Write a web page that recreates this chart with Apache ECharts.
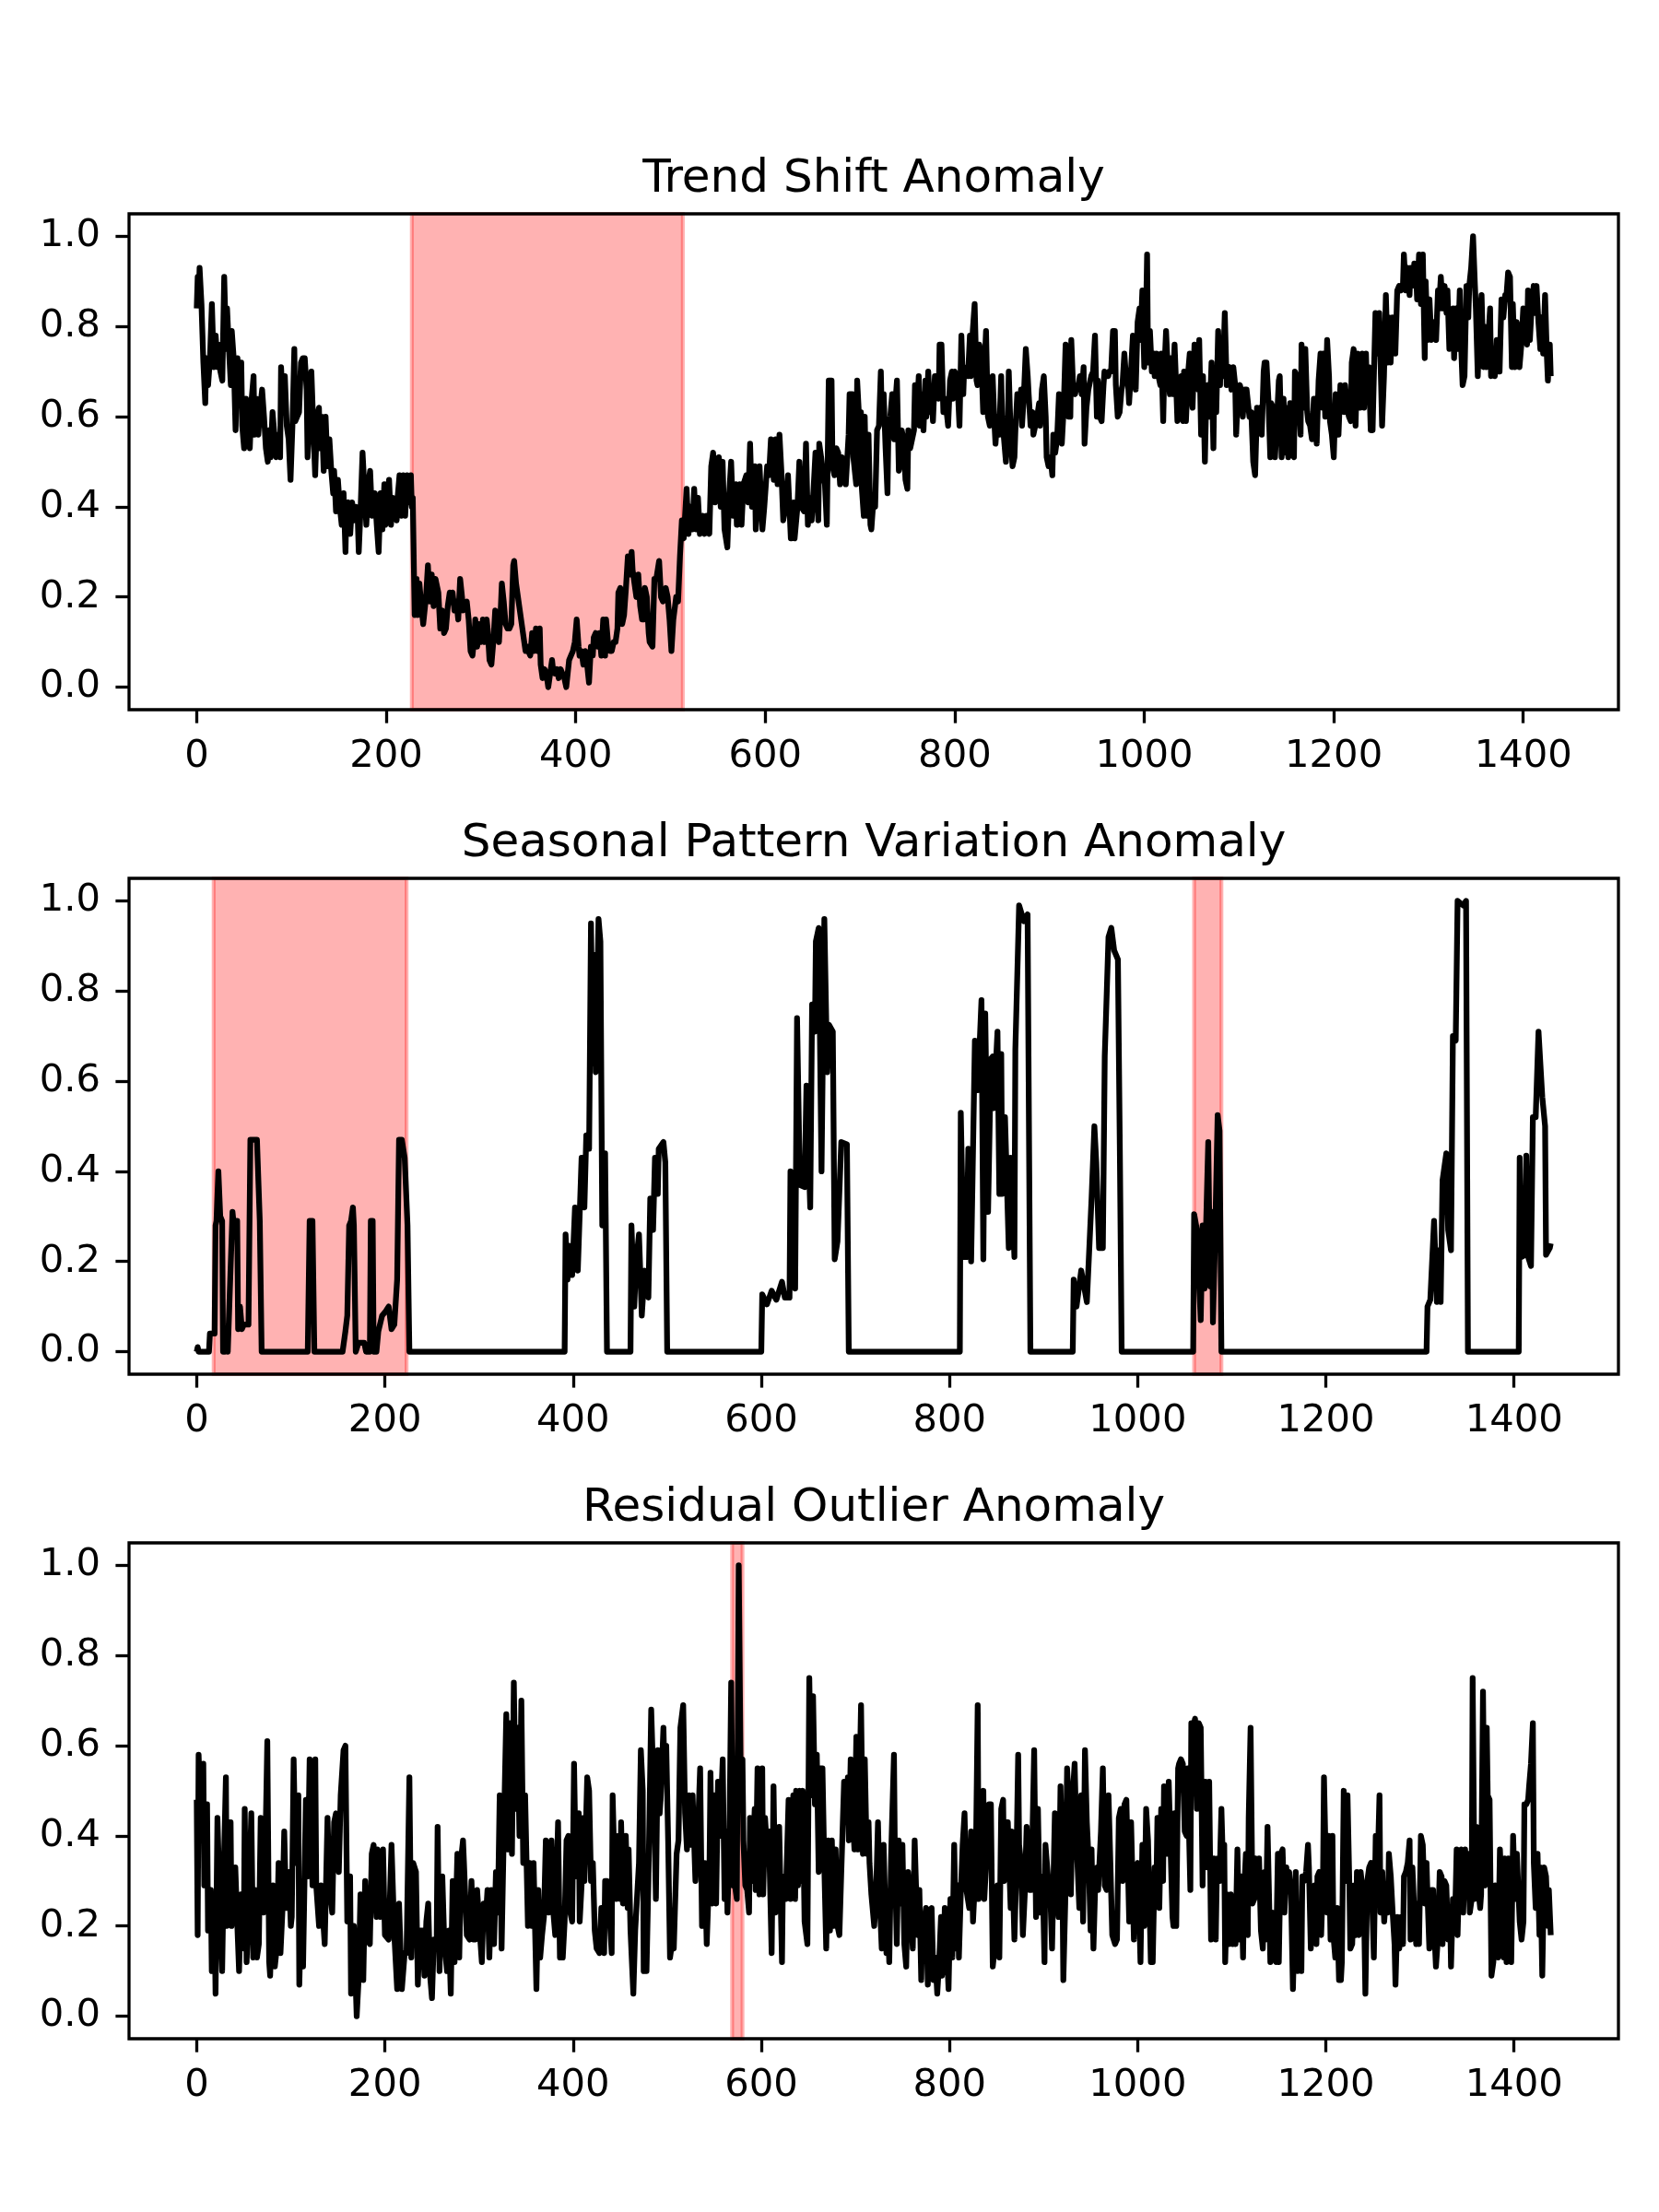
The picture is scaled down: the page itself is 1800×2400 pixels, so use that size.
<!doctype html>
<html lang="en">
<head>
<meta charset="UTF-8">
<title>Anomaly types</title>
<script src="https://cdn.jsdelivr.net/npm/echarts@6/dist/echarts.min.js"></script>
<style>
  html, body { margin: 0; padding: 0; background: #fff; }
  #main { width: 1800px; height: 2400px; }
</style>
</head>
<body>
<div id="main"></div>
<script>
// values, [index, normalised value]
var trendPoints = [[0,0.84],[1,0.91],[2,0.85],[3,0.93],[5,0.85],[7,0.72],[9,0.63],[10,0.73],[12,0.67],[14,0.73],[16,0.85],[18,0.71],[20,0.78],[22,0.71],[23,0.76],[25,0.70],[27,0.68],[29,0.91],[31,0.75],[32,0.84],[34,0.75],[36,0.67],[37,0.79],[39,0.73],[41,0.57],[43,0.73],[45,0.63],[47,0.72],[48,0.58],[50,0.53],[52,0.64],[54,0.55],[56,0.53],[58,0.64],[60,0.69],[61,0.56],[63,0.64],[65,0.56],[67,0.62],[69,0.66],[71,0.60],[73,0.53],[75,0.50],[76,0.57],[78,0.51],[80,0.61],[82,0.56],[84,0.51],[86,0.56],[88,0.51],[89,0.71],[91,0.62],[93,0.69],[95,0.58],[97,0.55],[99,0.46],[101,0.58],[103,0.75],[104,0.59],[106,0.60],[108,0.61],[110,0.72],[112,0.73],[114,0.73],[116,0.66],[117,0.51],[119,0.60],[121,0.70],[123,0.58],[125,0.47],[127,0.60],[129,0.62],[130,0.53],[132,0.60],[134,0.48],[136,0.60],[138,0.49],[140,0.55],[142,0.48],[144,0.43],[145,0.48],[147,0.39],[149,0.46],[151,0.40],[153,0.36],[155,0.43],[157,0.30],[158,0.40],[160,0.41],[162,0.34],[164,0.41],[166,0.37],[168,0.40],[170,0.37],[171,0.30],[173,0.40],[175,0.52],[177,0.44],[179,0.36],[181,0.45],[183,0.48],[185,0.38],[186,0.42],[188,0.43],[190,0.36],[192,0.30],[194,0.43],[196,0.35],[198,0.45],[199,0.36],[201,0.41],[203,0.46],[205,0.36],[207,0.42],[209,0.39],[211,0.37],[212,0.42],[214,0.47],[216,0.38],[218,0.47],[220,0.38],[222,0.47],[224,0.41],[226,0.47],[227,0.40],[228,0.42],[230,0.16],[232,0.24],[233,0.16],[235,0.23],[237,0.18],[239,0.14],[241,0.18],[242,0.20],[244,0.27],[246,0.19],[248,0.25],[250,0.18],[252,0.24],[253,0.23],[255,0.21],[257,0.13],[259,0.17],[261,0.12],[263,0.13],[265,0.18],[267,0.21],[268,0.19],[270,0.21],[272,0.17],[274,0.19],[276,0.15],[278,0.24],[280,0.20],[281,0.17],[283,0.18],[285,0.19],[287,0.15],[289,0.08],[291,0.07],[293,0.11],[294,0.15],[296,0.09],[298,0.14],[300,0.10],[302,0.15],[304,0.10],[306,0.15],[307,0.13],[309,0.06],[311,0.05],[313,0.10],[315,0.17],[317,0.14],[319,0.10],[321,0.18],[322,0.23],[324,0.19],[326,0.14],[328,0.13],[330,0.13],[332,0.14],[334,0.27],[335,0.28],[337,0.23],[339,0.20],[341,0.17],[343,0.14],[345,0.11],[347,0.08],[349,0.09],[350,0.08],[352,0.07],[354,0.12],[356,0.08],[358,0.13],[360,0.08],[362,0.13],[363,0.05],[365,0.02],[367,0.04],[369,0.03],[371,0.0],[373,0.03],[375,0.06],[376,0.04],[378,0.03],[380,0.04],[382,0.02],[384,0.04],[386,0.03],[388,0.02],[390,0.0],[391,0.02],[393,0.06],[395,0.07],[397,0.08],[399,0.10],[401,0.15],[403,0.09],[404,0.07],[406,0.08],[408,0.05],[410,0.08],[412,0.05],[414,0.01],[416,0.09],[418,0.07],[419,0.11],[421,0.12],[423,0.09],[425,0.12],[427,0.07],[429,0.15],[431,0.07],[432,0.15],[434,0.10],[436,0.08],[438,0.08],[440,0.10],[442,0.10],[444,0.13],[445,0.21],[447,0.22],[449,0.14],[451,0.16],[453,0.22],[455,0.29],[457,0.25],[459,0.30],[460,0.26],[462,0.23],[464,0.20],[466,0.25],[468,0.18],[470,0.15],[472,0.15],[473,0.22],[475,0.20],[477,0.12],[478,0.10],[481,0.09],[483,0.24],[485,0.24],[488,0.28],[490,0.20],[492,0.19],[495,0.22],[497,0.20],[499,0.15],[501,0.08],[503,0.15],[506,0.20],[508,0.19],[510,0.29],[512,0.37],[514,0.33],[517,0.44],[519,0.34],[521,0.40],[523,0.35],[525,0.44],[527,0.35],[529,0.42],[531,0.34],[534,0.38],[536,0.34],[538,0.38],[541,0.34],[543,0.49],[545,0.52],[547,0.41],[549,0.47],[551,0.51],[553,0.40],[555,0.50],[557,0.35],[560,0.31],[562,0.43],[564,0.50],[566,0.38],[569,0.45],[570,0.36],[573,0.45],[575,0.36],[577,0.45],[580,0.47],[582,0.41],[584,0.54],[586,0.40],[589,0.49],[590,0.35],[592,0.43],[594,0.49],[597,0.35],[599,0.40],[602,0.49],[604,0.47],[606,0.55],[609,0.46],[611,0.55],[613,0.45],[615,0.56],[617,0.48],[619,0.37],[622,0.41],[624,0.47],[627,0.33],[630,0.41],[631,0.33],[634,0.40],[636,0.50],[638,0.40],[641,0.39],[643,0.54],[645,0.36],[647,0.42],[649,0.37],[651,0.44],[653,0.52],[656,0.37],[657,0.54],[659,0.51],[661,0.47],[663,0.45],[665,0.36],[667,0.68],[670,0.68],[671,0.49],[673,0.47],[675,0.53],[677,0.52],[679,0.45],[681,0.51],[683,0.50],[685,0.45],[688,0.56],[689,0.65],[692,0.65],[693,0.51],[696,0.45],[697,0.68],[699,0.60],[701,0.61],[702,0.44],[704,0.38],[705,0.60],[707,0.38],[709,0.56],[711,0.36],[712,0.35],[714,0.41],[716,0.40],[718,0.57],[720,0.58],[722,0.70],[723,0.60],[725,0.65],[727,0.53],[729,0.43],[730,0.57],[732,0.60],[734,0.65],[736,0.55],[737,0.62],[739,0.68],[741,0.48],[743,0.50],[744,0.57],[746,0.55],[748,0.46],[750,0.44],[751,0.57],[753,0.53],[755,0.55],[757,0.57],[758,0.67],[760,0.60],[762,0.69],[763,0.58],[765,0.65],[767,0.57],[769,0.68],[770,0.60],[772,0.70],[774,0.61],[776,0.64],[777,0.59],[779,0.69],[781,0.69],[783,0.64],[784,0.76],[786,0.76],[788,0.61],[790,0.64],[791,0.62],[793,0.58],[795,0.68],[797,0.70],[798,0.64],[800,0.70],[802,0.69],[803,0.67],[805,0.58],[807,0.78],[809,0.65],[810,0.71],[812,0.70],[814,0.69],[816,0.78],[817,0.69],[819,0.79],[821,0.85],[823,0.68],[824,0.67],[826,0.76],[828,0.73],[830,0.61],[831,0.69],[833,0.79],[835,0.60],[837,0.58],[838,0.61],[840,0.69],[842,0.58],[843,0.54],[845,0.60],[847,0.56],[849,0.69],[850,0.60],[852,0.55],[854,0.50],[856,0.58],[857,0.70],[859,0.56],[861,0.49],[863,0.51],[864,0.57],[866,0.65],[868,0.61],[870,0.66],[871,0.58],[873,0.65],[875,0.75],[877,0.69],[878,0.65],[880,0.58],[882,0.61],[883,0.56],[885,0.58],[887,0.60],[889,0.63],[890,0.58],[892,0.66],[894,0.69],[896,0.60],[897,0.51],[899,0.49],[901,0.51],[903,0.47],[904,0.56],[906,0.52],[908,0.55],[910,0.65],[911,0.57],[913,0.54],[915,0.62],[917,0.76],[918,0.66],[920,0.60],[922,0.60],[923,0.77],[925,0.66],[927,0.65],[929,0.67],[930,0.66],[932,0.69],[934,0.65],[936,0.71],[937,0.54],[939,0.62],[941,0.66],[943,0.68],[944,0.69],[946,0.70],[948,0.78],[950,0.60],[951,0.68],[953,0.60],[955,0.59],[957,0.67],[958,0.70],[960,0.69],[962,0.69],[963,0.70],[965,0.70],[967,0.79],[969,0.79],[970,0.67],[972,0.60],[974,0.61],[976,0.66],[977,0.67],[979,0.74],[981,0.68],[983,0.67],[984,0.63],[986,0.70],[988,0.78],[989,0.76],[991,0.66],[993,0.81],[995,0.84],[996,0.77],[998,0.88],[1000,0.71],[1002,0.84],[1003,0.96],[1004,0.72],[1006,0.79],[1008,0.70],[1010,0.74],[1011,0.69],[1013,0.74],[1015,0.69],[1017,0.67],[1018,0.74],[1020,0.59],[1021,0.69],[1023,0.79],[1025,0.70],[1027,0.65],[1028,0.73],[1030,0.65],[1032,0.76],[1034,0.65],[1035,0.59],[1037,0.61],[1039,0.69],[1041,0.59],[1042,0.70],[1044,0.59],[1046,0.69],[1048,0.74],[1050,0.64],[1051,0.62],[1053,0.76],[1055,0.67],[1057,0.66],[1058,0.77],[1060,0.56],[1062,0.69],[1064,0.50],[1065,0.60],[1067,0.67],[1069,0.60],[1071,0.72],[1073,0.53],[1074,0.69],[1076,0.61],[1078,0.79],[1080,0.67],[1081,0.77],[1083,0.69],[1085,0.83],[1087,0.67],[1088,0.69],[1090,0.71],[1092,0.66],[1094,0.71],[1096,0.67],[1097,0.56],[1099,0.66],[1101,0.67],[1103,0.65],[1104,0.60],[1106,0.66],[1108,0.66],[1110,0.62],[1111,0.60],[1113,0.61],[1115,0.50],[1117,0.47],[1119,0.62],[1120,0.60],[1122,0.62],[1124,0.56],[1126,0.70],[1127,0.72],[1129,0.72],[1131,0.64],[1133,0.51],[1134,0.63],[1136,0.62],[1138,0.51],[1140,0.59],[1142,0.68],[1143,0.69],[1145,0.51],[1147,0.64],[1149,0.52],[1150,0.62],[1152,0.51],[1154,0.63],[1156,0.52],[1158,0.51],[1159,0.70],[1161,0.69],[1163,0.64],[1165,0.56],[1166,0.76],[1168,0.62],[1170,0.75],[1172,0.61],[1173,0.59],[1175,0.58],[1177,0.55],[1179,0.64],[1181,0.64],[1182,0.54],[1184,0.68],[1186,0.74],[1188,0.62],[1189,0.74],[1191,0.60],[1193,0.77],[1195,0.69],[1196,0.59],[1198,0.56],[1200,0.51],[1202,0.65],[1204,0.62],[1205,0.56],[1207,0.67],[1209,0.63],[1211,0.61],[1212,0.67],[1214,0.62],[1216,0.60],[1218,0.59],[1219,0.72],[1221,0.75],[1223,0.58],[1225,0.74],[1226,0.62],[1228,0.62],[1230,0.74],[1232,0.62],[1234,0.74],[1235,0.66],[1237,0.71],[1239,0.57],[1241,0.57],[1242,0.66],[1244,0.83],[1246,0.74],[1248,0.83],[1250,0.67],[1251,0.58],[1253,0.69],[1255,0.87],[1257,0.72],[1258,0.82],[1260,0.72],[1262,0.82],[1264,0.77],[1265,0.74],[1267,0.88],[1269,0.89],[1271,0.88],[1273,0.89],[1274,0.96],[1276,0.88],[1278,0.93],[1280,0.87],[1281,0.93],[1283,0.89],[1285,0.94],[1287,0.91],[1288,0.86],[1290,0.96],[1292,0.85],[1294,0.96],[1296,0.73],[1297,0.90],[1299,0.77],[1301,0.86],[1303,0.77],[1304,0.78],[1306,0.81],[1308,0.77],[1310,0.88],[1311,0.84],[1313,0.91],[1315,0.84],[1317,0.89],[1319,0.83],[1320,0.88],[1322,0.75],[1324,0.79],[1326,0.84],[1327,0.73],[1329,0.84],[1331,0.75],[1333,0.88],[1334,0.78],[1336,0.67],[1338,0.69],[1340,0.89],[1342,0.82],[1343,0.89],[1345,0.93],[1347,1.0],[1349,0.89],[1350,0.84],[1352,0.69],[1354,0.82],[1356,0.87],[1358,0.71],[1359,0.80],[1361,0.71],[1363,0.77],[1365,0.84],[1366,0.69],[1368,0.71],[1370,0.69],[1372,0.77],[1373,0.77],[1375,0.70],[1377,0.86],[1379,0.82],[1381,0.87],[1382,0.86],[1384,0.92],[1386,0.91],[1388,0.71],[1389,0.85],[1391,0.71],[1393,0.81],[1395,0.78],[1396,0.71],[1398,0.76],[1400,0.84],[1402,0.78],[1404,0.76],[1405,0.88],[1407,0.77],[1409,0.85],[1411,0.89],[1412,0.83],[1414,0.89],[1416,0.81],[1418,0.75],[1419,0.82],[1421,0.74],[1423,0.87],[1425,0.73],[1426,0.68],[1428,0.76],[1429,0.69]];

var seasonalPoints = [[0,0],[1,0.01],[2,0],[13,0],[14,0.04],[19,0.04],[20,0.28],[21,0.29],[23,0.40],[25,0.30],[27,0.29],[28,0],[30,0],[31,0.03],[33,0],[34,0],[38,0.31],[39,0.29],[43,0.29],[44,0.05],[46,0.10],[48,0.05],[50,0.06],[55,0.06],[57,0.47],[64,0.47],[67,0.29],[69,0],[118,0],[120,0.29],[123,0.29],[125,0],[155,0],[158,0.045],[160,0.08],[162,0.28],[164,0.29],[166,0.32],[167,0.28],[169,0],[172,0.02],[178,0.02],[180,0],[184,0],[185,0.29],[187,0.29],[188,0],[191,0],[193,0.045],[197,0.08],[201,0.09],[204,0.10],[207,0.05],[210,0.06],[213,0.16],[215,0.47],[218,0.47],[221,0.43],[224,0.28],[226,0],[391,0],[392,0.26],[394,0.16],[396,0.235],[399,0.17],[402,0.32],[405,0.18],[409,0.43],[412,0.32],[414,0.48],[417,0.45],[419,0.95],[421,0.64],[423,0.88],[424,0.62],[427,0.96],[429,0.91],[431,0.28],[434,0.44],[436,0],[461,0],[462,0.28],[465,0.10],[467,0.20],[470,0.26],[473,0.08],[476,0.18],[480,0.12],[482,0.34],[485,0.27],[487,0.43],[490,0.35],[491,0.45],[496,0.465],[498,0.42],[500,0],[600,0],[601,0.127],[606,0.105],[611,0.135],[616,0.115],[622,0.155],[625,0.12],[630,0.12],[631,0.40],[636,0.14],[638,0.74],[641,0.37],[646,0.365],[648,0.59],[652,0.32],[654,0.77],[657,0.71],[658,0.91],[661,0.94],[664,0.40],[667,0.96],[670,0.62],[672,0.725],[676,0.71],[678,0.205],[681,0.245],[685,0.465],[691,0.46],[693,0],[811,0],[812,0.53],[815,0.21],[818,0.21],[820,0.45],[823,0.20],[827,0.69],[828,0.69],[830,0.58],[834,0.78],[836,0.205],[838,0.75],[841,0.31],[844,0.65],[846,0.655],[847,0.54],[851,0.71],[853,0.35],[855,0.66],[856,0.35],[859,0.52],[863,0.23],[865,0.43],[869,0.21],[870,0.67],[874,0.99],[879,0.955],[883,0.97],[886,0],[931,0],[932,0.16],[935,0.10],[940,0.18],[946,0.11],[951,0.34],[954,0.50],[956,0.42],[959,0.23],[963,0.23],[965,0.655],[969,0.92],[972,0.94],[975,0.89],[979,0.87],[981,0.46],[983,0],[1059,0],[1060,0.305],[1063,0.27],[1067,0.07],[1069,0.28],[1071,0.14],[1075,0.465],[1077,0.145],[1079,0.31],[1080,0.065],[1082,0.225],[1085,0.525],[1087,0.49],[1089,0],[1307,0],[1308,0.10],[1311,0.115],[1315,0.29],[1318,0.11],[1320,0.225],[1322,0.11],[1324,0.38],[1328,0.44],[1330,0.27],[1333,0.225],[1335,0.70],[1338,0.69],[1340,1.0],[1346,0.99],[1349,1.0],[1351,0],[1405,0],[1406,0.43],[1408,0.21],[1412,0.215],[1413,0.435],[1415,0.21],[1418,0.19],[1420,0.52],[1423,0.52],[1426,0.71],[1430,0.565],[1433,0.50],[1434,0.215],[1438,0.23],[1439,0.24]];

var residualPoints = [[0,0.48],[1,0.18],[2,0.58],[4,0.45],[7,0.56],[8,0.29],[11,0.47],[12,0.19],[15,0.28],[16,0.10],[19,0.22],[20,0.05],[22,0.44],[25,0.22],[27,0.10],[29,0.35],[31,0.53],[32,0.20],[36,0.43],[37,0.20],[41,0.33],[43,0.21],[45,0.10],[47,0.27],[50,0.15],[51,0.46],[53,0.12],[56,0.30],[58,0.45],[60,0.13],[62,0.28],[64,0.13],[66,0.16],[68,0.44],[71,0.23],[72,0.26],[75,0.61],[77,0.12],[78,0.09],[81,0.29],[83,0.11],[85,0.15],[87,0.34],[89,0.14],[91,0.23],[93,0.41],[95,0.24],[98,0.32],[100,0.20],[101,0.22],[103,0.57],[105,0.34],[108,0.49],[109,0.07],[111,0.24],[113,0.11],[116,0.48],[118,0.31],[120,0.57],[123,0.29],[126,0.57],[127,0.29],[130,0.20],[132,0.29],[136,0.16],[139,0.44],[141,0.29],[144,0.23],[146,0.43],[148,0.45],[151,0.32],[153,0.49],[156,0.59],[158,0.60],[160,0.21],[163,0.31],[164,0.05],[167,0.20],[170,0.0],[172,0.08],[174,0.27],[177,0.08],[179,0.30],[181,0.17],[184,0.16],[186,0.36],[188,0.38],[191,0.22],[192,0.37],[195,0.22],[198,0.37],[200,0.18],[204,0.17],[207,0.38],[210,0.18],[213,0.06],[215,0.25],[218,0.06],[221,0.14],[223,0.14],[226,0.53],[228,0.13],[230,0.34],[233,0.32],[235,0.07],[237,0.19],[240,0.19],[242,0.09],[244,0.21],[246,0.25],[248,0.09],[250,0.04],[252,0.17],[255,0.16],[256,0.42],[258,0.10],[261,0.31],[263,0.17],[266,0.10],[268,0.19],[270,0.05],[272,0.30],[274,0.12],[277,0.36],[279,0.13],[281,0.35],[283,0.39],[284,0.34],[287,0.18],[290,0.17],[292,0.30],[294,0.17],[296,0.17],[298,0.28],[301,0.18],[303,0.12],[305,0.25],[307,0.21],[309,0.28],[311,0.13],[313,0.28],[316,0.16],[318,0.32],[320,0.23],[322,0.49],[324,0.15],[326,0.37],[329,0.67],[331,0.37],[333,0.65],[335,0.36],[337,0.74],[339,0.46],[341,0.64],[343,0.40],[345,0.70],[347,0.34],[349,0.49],[352,0.20],[354,0.34],[356,0.20],[358,0.34],[361,0.06],[363,0.28],[365,0.13],[367,0.18],[369,0.22],[371,0.39],[374,0.23],[377,0.39],[379,0.23],[381,0.18],[384,0.43],[386,0.13],[389,0.13],[391,0.21],[393,0.39],[395,0.40],[397,0.23],[399,0.21],[401,0.56],[403,0.31],[406,0.45],[407,0.21],[409,0.29],[411,0.44],[412,0.30],[415,0.53],[417,0.50],[419,0.30],[421,0.34],[423,0.19],[425,0.15],[428,0.14],[430,0.24],[433,0.14],[434,0.30],[436,0.30],[438,0.25],[441,0.14],[442,0.49],[444,0.33],[446,0.26],[448,0.40],[450,0.26],[451,0.43],[453,0.25],[456,0.40],[458,0.24],[459,0.37],[461,0.19],[464,0.05],[466,0.19],[470,0.34],[472,0.59],[474,0.50],[475,0.10],[478,0.10],[480,0.30],[483,0.68],[486,0.47],[488,0.26],[490,0.59],[492,0.45],[493,0.48],[496,0.64],[497,0.55],[499,0.60],[501,0.39],[503,0.13],[505,0.16],[507,0.15],[510,0.36],[512,0.39],[514,0.64],[517,0.69],[519,0.45],[521,0.37],[523,0.49],[525,0.38],[527,0.49],[530,0.30],[531,0.30],[533,0.43],[535,0.55],[537,0.20],[539,0.25],[540,0.34],[542,0.16],[545,0.34],[546,0.54],[548,0.25],[550,0.49],[552,0.25],[554,0.52],[556,0.40],[559,0.57],[561,0.26],[563,0.41],[564,0.23],[566,0.37],[568,0.74],[570,0.29],[572,0.29],[574,0.26],[576,1.0],[578,0.56],[580,0.57],[581,0.39],[583,0.29],[585,0.28],[587,0.23],[588,0.44],[590,0.30],[593,0.46],[594,0.28],[596,0.55],[598,0.27],[601,0.55],[602,0.27],[604,0.44],[607,0.34],[608,0.41],[611,0.14],[613,0.51],[615,0.23],[617,0.31],[619,0.42],[622,0.12],[623,0.31],[626,0.26],[629,0.48],[631,0.26],[634,0.49],[636,0.26],[637,0.50],[639,0.29],[641,0.50],[643,0.30],[644,0.50],[646,0.21],[649,0.16],[651,0.75],[653,0.49],[655,0.71],[657,0.47],[659,0.58],[661,0.32],[663,0.55],[665,0.55],[667,0.33],[669,0.15],[671,0.39],[673,0.19],[675,0.39],[677,0.20],[679,0.37],[681,0.20],[683,0.18],[685,0.32],[688,0.52],[690,0.43],[692,0.53],[693,0.39],[695,0.57],[697,0.45],[699,0.37],[701,0.62],[703,0.37],[706,0.69],[708,0.36],[710,0.57],[712,0.36],[714,0.43],[715,0.34],[717,0.27],[720,0.20],[722,0.27],[724,0.43],[726,0.25],[728,0.15],[730,0.38],[733,0.14],[734,0.25],[736,0.12],[738,0.36],[741,0.58],[742,0.35],[744,0.16],[746,0.39],[748,0.25],[750,0.38],[752,0.16],[754,0.11],[756,0.32],[759,0.23],[761,0.15],[763,0.39],[766,0.18],[768,0.28],[770,0.08],[771,0.20],[773,0.20],[775,0.24],[777,0.07],[778,0.23],[781,0.24],[783,0.08],[785,0.13],[787,0.05],[789,0.12],[791,0.22],[792,0.09],[794,0.12],[795,0.24],[797,0.16],[799,0.06],[801,0.26],[803,0.13],[805,0.38],[807,0.15],[809,0.29],[810,0.13],[812,0.27],[814,0.38],[816,0.45],[818,0.28],[821,0.24],[823,0.41],[825,0.21],[828,0.34],[830,0.69],[831,0.26],[834,0.41],[836,0.50],[837,0.26],[839,0.34],[842,0.47],[844,0.47],[846,0.11],[849,0.17],[851,0.29],[853,0.13],[855,0.46],[857,0.48],[858,0.30],[860,0.43],[862,0.43],[865,0.24],[866,0.41],[869,0.17],[871,0.32],[873,0.58],[874,0.38],[876,0.34],[878,0.18],[880,0.27],[882,0.42],[885,0.28],[887,0.28],[890,0.59],[892,0.22],[894,0.46],[896,0.23],[899,0.31],[901,0.12],[902,0.38],[905,0.30],[907,0.28],[909,0.15],[912,0.45],[914,0.28],[916,0.22],[918,0.51],[920,0.31],[921,0.08],[923,0.25],[925,0.55],[927,0.47],[929,0.27],[931,0.49],[933,0.56],[935,0.39],[936,0.34],[938,0.24],[940,0.49],[942,0.21],[944,0.59],[946,0.43],[948,0.34],[950,0.19],[951,0.37],[953,0.15],[955,0.30],[957,0.33],[958,0.28],[961,0.41],[963,0.55],[965,0.29],[967,0.28],[969,0.49],[971,0.34],[973,0.18],[976,0.16],[978,0.17],[980,0.44],[982,0.46],[984,0.30],[986,0.47],[988,0.48],[990,0.30],[991,0.21],[993,0.43],[996,0.17],[997,0.31],[1000,0.34],[1002,0.20],[1003,0.12],[1005,0.38],[1007,0.20],[1009,0.46],[1011,0.39],[1012,0.30],[1014,0.12],[1016,0.12],[1018,0.33],[1020,0.30],[1021,0.44],[1023,0.24],[1025,0.46],[1027,0.30],[1028,0.51],[1029,0.36],[1031,0.36],[1033,0.52],[1035,0.37],[1037,0.22],[1038,0.20],[1039,0.45],[1041,0.20],[1043,0.55],[1044,0.56],[1046,0.57],[1048,0.56],[1050,0.41],[1052,0.40],[1053,0.55],[1056,0.28],[1057,0.65],[1059,0.64],[1061,0.66],[1063,0.46],[1065,0.65],[1067,0.64],[1069,0.29],[1070,0.52],[1072,0.52],[1074,0.33],[1076,0.52],[1078,0.17],[1079,0.17],[1081,0.35],[1083,0.17],[1084,0.30],[1085,0.35],[1087,0.30],[1089,0.46],[1091,0.31],[1092,0.38],[1093,0.12],[1095,0.27],[1097,0.16],[1099,0.27],[1101,0.16],[1103,0.21],[1104,0.16],[1106,0.37],[1108,0.17],[1110,0.31],[1112,0.13],[1113,0.27],[1115,0.36],[1117,0.18],[1118,0.44],[1120,0.64],[1122,0.25],[1124,0.26],[1125,0.35],[1127,0.27],[1129,0.35],[1131,0.19],[1133,0.15],[1135,0.32],[1136,0.17],[1138,0.42],[1140,0.23],[1141,0.12],[1143,0.23],[1145,0.15],[1147,0.12],[1149,0.36],[1150,0.12],[1152,0.36],[1154,0.37],[1156,0.23],[1158,0.33],[1159,0.29],[1161,0.32],[1163,0.27],[1165,0.06],[1167,0.23],[1168,0.32],[1170,0.10],[1172,0.19],[1174,0.10],[1175,0.31],[1177,0.30],[1179,0.32],[1181,0.38],[1182,0.33],[1184,0.15],[1186,0.24],[1188,0.29],[1190,0.16],[1191,0.31],[1193,0.32],[1195,0.18],[1197,0.31],[1198,0.53],[1200,0.33],[1201,0.23],[1203,0.40],[1205,0.17],[1207,0.40],[1208,0.18],[1210,0.13],[1212,0.24],[1214,0.08],[1216,0.08],[1217,0.12],[1219,0.50],[1221,0.30],[1223,0.49],[1225,0.29],[1226,0.15],[1228,0.16],[1230,0.29],[1232,0.18],[1233,0.32],[1235,0.18],[1237,0.32],[1239,0.28],[1241,0.18],[1242,0.05],[1244,0.30],[1246,0.33],[1248,0.34],[1249,0.34],[1251,0.13],[1253,0.40],[1255,0.33],[1257,0.49],[1258,0.23],[1260,0.32],[1262,0.21],[1264,0.27],[1266,0.23],[1267,0.36],[1269,0.31],[1271,0.23],[1273,0.16],[1274,0.07],[1276,0.22],[1278,0.15],[1280,0.22],[1282,0.16],[1283,0.31],[1285,0.32],[1287,0.34],[1289,0.39],[1290,0.17],[1292,0.33],[1294,0.23],[1296,0.16],[1298,0.25],[1299,0.16],[1301,0.40],[1303,0.38],[1305,0.25],[1307,0.34],[1308,0.27],[1310,0.15],[1312,0.28],[1314,0.28],[1315,0.20],[1317,0.11],[1319,0.17],[1321,0.32],[1323,0.31],[1324,0.16],[1326,0.30],[1328,0.29],[1330,0.17],[1332,0.23],[1333,0.11],[1335,0.26],[1337,0.19],[1339,0.37],[1340,0.18],[1342,0.34],[1344,0.37],[1346,0.23],[1348,0.37],[1349,0.31],[1351,0.36],[1353,0.23],[1355,0.26],[1356,0.75],[1358,0.26],[1360,0.42],[1362,0.28],[1364,0.24],[1365,0.27],[1367,0.72],[1369,0.29],[1371,0.64],[1372,0.49],[1374,0.48],[1376,0.09],[1378,0.12],[1380,0.29],[1381,0.23],[1383,0.13],[1385,0.37],[1387,0.26],[1389,0.13],[1390,0.35],[1392,0.12],[1394,0.35],[1396,0.16],[1397,0.12],[1399,0.40],[1401,0.26],[1403,0.36],[1405,0.26],[1406,0.21],[1408,0.17],[1410,0.21],[1411,0.47],[1413,0.47],[1415,0.48],[1416,0.51],[1418,0.56],[1420,0.65],[1421,0.34],[1423,0.24],[1425,0.36],[1427,0.18],[1428,0.33],[1430,0.09],[1432,0.33],[1434,0.31],[1436,0.20],[1437,0.28],[1439,0.18]];

// shaded anomaly windows [start, end]
var trendSpans = [[227, 513]];
var seasonalSpans = [[18, 223], [1060, 1089]];
var residualSpans = [[569, 580]];

var titles = ['Trend Shift Anomaly', 'Seasonal Pattern Variation Anomaly', 'Residual Outlier Anomaly'];
var xTicks = [0, 200, 400, 600, 800, 1000, 1200, 1400];
var yTicks = [0, 0.2, 0.4, 0.6, 0.8, 1.0];
var lastIndex = [1429, 1439, 1439];

var FONT = 'DejaVu Sans';
var panels = [
    {points: trendPoints, spans: trendSpans},
    {points: seasonalPoints, spans: seasonalSpans},
    {points: residualPoints, spans: residualSpans}
];

var plotLeft = 140, plotWidth = 1616, plotHeight = 538;
var plotTops = [232, 953, 1674];

var chart = echarts.init(document.getElementById('main'));

var grids = [], xAxes = [], yAxes = [], series = [], graphics = [];
panels.forEach(function (p, i) {
    // matplotlib style 5% margins around the data
    var pad = lastIndex[i] * 0.05;
    grids.push({left: plotLeft, top: plotTops[i], width: plotWidth, height: plotHeight});
    xAxes.push({
        type: 'value', gridIndex: i, min: -pad, max: lastIndex[i] + pad,
        axisLine: {show: false, onZero: false},
        axisTick: {show: true, length: 14.6, customValues: xTicks, lineStyle: {color: '#000', width: 3.3}},
        axisLabel: {
            customValues: xTicks, margin: 30, color: '#000',
            fontFamily: FONT, fontSize: 41.7,
            formatter: function (v) { return String(v); }
        },
        splitLine: {show: false}
    });
    yAxes.push({
        type: 'value', gridIndex: i, min: -0.05, max: 1.05,
        axisLine: {show: false, onZero: false},
        axisTick: {show: true, length: 14.6, customValues: yTicks, lineStyle: {color: '#000', width: 3.3}},
        axisLabel: {
            customValues: yTicks, margin: 31, color: '#000',
            fontFamily: FONT, fontSize: 41.7,
            formatter: function (v) { return v.toFixed(1); }
        },
        splitLine: {show: false}
    });
    series.push({
        type: 'line', xAxisIndex: i, yAxisIndex: i,
        data: p.points, showSymbol: false, symbol: 'none',
        lineStyle: {color: '#000', width: 6.25, join: 'round', cap: 'butt'},
        markArea: {
            silent: true,
            itemStyle: {color: 'rgba(255,0,0,0.3)', borderColor: 'rgba(255,0,0,0.3)', borderWidth: 4.2},
            data: p.spans.map(function (s) { return [{xAxis: s[0]}, {xAxis: s[1]}]; })
        }
    });
    // axes frame drawn above the data, like the spines
    graphics.push({
        type: 'rect', z: 100, silent: true,
        shape: {x: plotLeft, y: plotTops[i], width: plotWidth, height: plotHeight},
        style: {fill: null, stroke: '#000', lineWidth: 3.3}
    });
    graphics.push({
        type: 'text', x: plotLeft + plotWidth / 2, y: plotTops[i] - 37,
        style: {
            text: titles[i], fill: '#000', font: '50px "DejaVu Sans"',
            textAlign: 'center', textVerticalAlign: 'middle'
        }
    });
});

chart.setOption({
    animation: false,
    backgroundColor: '#fff',
    grid: grids,
    xAxis: xAxes,
    yAxis: yAxes,
    series: series,
    graphic: graphics
});
</script>
</body>
</html>
